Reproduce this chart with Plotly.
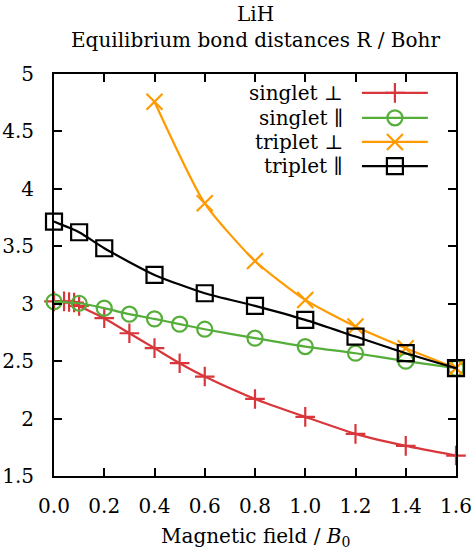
import plotly.graph_objects as go

# Equilibrium bond distances of LiH versus magnetic field strength
x_singlet_perp = [0.0, 0.04, 0.06, 0.08, 0.1, 0.2, 0.3, 0.4, 0.5, 0.6, 0.8, 1.0, 1.2, 1.4, 1.6]
y_singlet_perp = [3.02, 3.02, 3.015, 3.01, 2.98, 2.874, 2.743, 2.613, 2.482, 2.366, 2.171, 2.015, 1.867, 1.762, 1.678]

x_singlet_par = [0.0, 0.1, 0.2, 0.3, 0.4, 0.5, 0.6, 0.8, 1.0, 1.2, 1.4, 1.6]
y_singlet_par = [3.018, 3.004, 2.961, 2.909, 2.868, 2.822, 2.778, 2.700, 2.627, 2.569, 2.500, 2.439]

x_triplet_perp = [0.4, 0.6, 0.8, 1.0, 1.2, 1.4, 1.6]
y_triplet_perp = [4.759, 3.874, 3.372, 3.033, 2.801, 2.613, 2.439]

x_triplet_par = [0.0, 0.1, 0.2, 0.4, 0.6, 0.8, 1.0, 1.2, 1.4, 1.6]
y_triplet_par = [3.715, 3.622, 3.483, 3.251, 3.091, 2.981, 2.859, 2.714, 2.569, 2.439]

labels = ["singlet ⊥", "singlet ∥", "triplet ⊥", "triplet ∥"]
colors = ["#d8363a", "#55ae3a", "#ff9a00", "#000000"]
symbols = ["cross-thin-open", "circle-open", "x-thin-open", "square-open"]
sizes = [14, 15, 16, 16]

x_ticks = [0.0, 0.2, 0.4, 0.6, 0.8, 1.0, 1.2, 1.4, 1.6]
y_ticks = [1.5, 2.0, 2.5, 3.0, 3.5, 4.0, 4.5, 5.0]

series = [
    (x_singlet_perp, y_singlet_perp),
    (x_singlet_par, y_singlet_par),
    (x_triplet_perp, y_triplet_perp),
    (x_triplet_par, y_triplet_par),
]

FONT = "DejaVu Serif"
FS = 20
fig = go.Figure()

for (xs, ys), name, c, sym, sz in zip(series, labels, colors, symbols, sizes):
    fig.add_trace(go.Scatter(
        x=xs, y=ys, mode="lines+markers", name=name,
        line=dict(color=c, width=2.2, shape="spline", smoothing=0.6),
        marker=dict(symbol=sym, size=sz, color=c, line=dict(color=c, width=2.2)),
        cliponaxis=False, showlegend=False,
    ))

# Key: text on the left, sample line with marker on the right
row_y = [0.953, 0.891, 0.831, 0.771]
for name, c, sym, sz, ry in zip(labels, colors, symbols, sizes, row_y):
    fig.add_trace(go.Scatter(
        x=[0.766, 0.930], y=[ry, ry], mode="lines", xaxis="x2", yaxis="y2",
        line=dict(color=c, width=2.2), showlegend=False, hoverinfo="skip",
    ))
    fig.add_trace(go.Scatter(
        x=[0.848], y=[ry], mode="markers", xaxis="x2", yaxis="y2",
        marker=dict(symbol=sym, size=sz, color=c, line=dict(color=c, width=2.2)),
        showlegend=False, hoverinfo="skip", cliponaxis=False,
    ))
    fig.add_annotation(
        x=0.724, y=ry, xref="paper", yref="paper", text=name,
        showarrow=False, xanchor="right", yanchor="middle",
        font=dict(family=FONT, size=FS, color="black"),
    )

axis_common = dict(
    showline=True, linecolor="black", linewidth=2, mirror="ticks",
    ticks="inside", ticklen=8, tickwidth=1.5, tickcolor="black",
    showgrid=False, zeroline=False, automargin=False,
    tickfont=dict(family=FONT, size=FS, color="black"),
)

fig.update_layout(
    width=474, height=553,
    margin=dict(l=54, r=18, t=74, b=77, autoexpand=False),
    plot_bgcolor="white", paper_bgcolor="white",
    xaxis=dict(range=[0, 1.6], tickvals=x_ticks,
               ticktext=[f"{v:.1f}" for v in x_ticks], ticklabelstandoff=11,
               **axis_common),
    yaxis=dict(range=[1.5, 5.0], tickvals=y_ticks,
               ticktext=[f"{v:g}" for v in y_ticks], ticklabelstandoff=14,
               **axis_common),
    xaxis2=dict(overlaying="x", range=[0, 1], visible=False),
    yaxis2=dict(overlaying="y", range=[0, 1], visible=False),
)

fig.add_annotation(x=0.5, y=1.15, xref="paper", yref="paper", text="LiH",
                   showarrow=False, yanchor="middle",
                   font=dict(family=FONT, size=FS, color="black"))
fig.add_annotation(x=0.5, y=1.085, xref="paper", yref="paper",
                   text="Equilibrium bond distances R / Bohr",
                   showarrow=False, yanchor="middle",
                   font=dict(family=FONT, size=FS, color="black"))
fig.add_annotation(x=0.5, y=-0.152, xref="paper", yref="paper",
                   text="Magnetic field / <i>B</i><sub>0</sub>",
                   showarrow=False, yanchor="middle",
                   font=dict(family=FONT, size=FS, color="black"))

fig.write_html("out.html")
